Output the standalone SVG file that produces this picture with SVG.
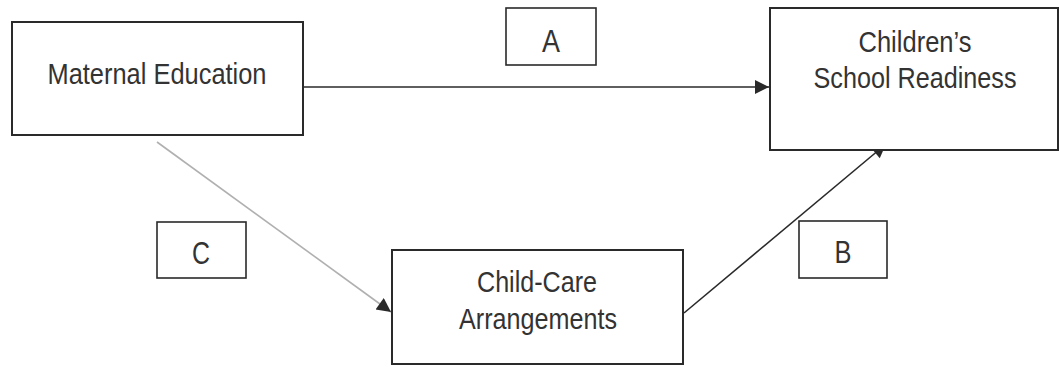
<svg xmlns="http://www.w3.org/2000/svg" width="1060" height="367" viewBox="0 0 1060 367">
<style>
.box{fill:#fff;stroke:#2a2a2a;stroke-width:2}
.lbl{fill:#fff;stroke:#2a2a2a;stroke-width:1.6}
.t{font-family:"Liberation Sans",Arial,sans-serif;font-size:29px;fill:#333;text-anchor:middle}
.l{font-family:"Liberation Sans",Arial,sans-serif;font-size:31px;fill:#333;text-anchor:middle}
.c{stroke:#2a2a2a;stroke-width:1.6;fill:none}
</style>
<defs>
<marker id="ah" viewBox="0 0 10 10" refX="10" refY="5" markerWidth="16" markerHeight="14" markerUnits="userSpaceOnUse" orient="auto"><path d="M0,0 L10,5 L0,10 z" fill="#2a2a2a"/></marker>
</defs>
<rect width="1060" height="367" fill="#fff"/>
<g id="connectors">
<line class="c" x1="303" y1="87" x2="769" y2="87" marker-end="url(#ah)"/>
<line x1="157" y1="142" x2="391" y2="312" stroke="#b0b0b0" stroke-width="1.6" marker-end="url(#ah)"/>
<line class="c" x1="684" y1="313" x2="886" y2="144" marker-end="url(#ah)"/>
</g>
<g id="maternal-education">
<rect class="box" x="12" y="22" width="291" height="113"/>
<text class="t" x="157" y="84" textLength="219" lengthAdjust="spacingAndGlyphs">Maternal Education</text>
</g>
<g id="school-readiness">
<rect class="box" x="770" y="8" width="288" height="142"/>
<text class="t" x="915" y="52" textLength="113" lengthAdjust="spacingAndGlyphs">Children’s</text>
<text class="t" x="915" y="88" textLength="203" lengthAdjust="spacingAndGlyphs">School Readiness</text>
</g>
<g id="child-care">
<rect class="box" x="392" y="250" width="291" height="114"/>
<text class="t" x="537" y="292" textLength="120" lengthAdjust="spacingAndGlyphs">Child-Care</text>
<text class="t" x="538" y="329" textLength="158" lengthAdjust="spacingAndGlyphs">Arrangements</text>
</g>
<g id="label-a">
<rect class="lbl" x="506" y="8" width="90" height="57"/>
<text class="l" x="551" y="52" textLength="18" lengthAdjust="spacingAndGlyphs">A</text>
</g>
<g id="label-c">
<rect class="lbl" x="157" y="222" width="89" height="56"/>
<text class="l" x="201" y="264" textLength="18" lengthAdjust="spacingAndGlyphs">C</text>
</g>
<g id="label-b">
<rect class="lbl" x="799" y="221" width="88" height="57"/>
<text class="l" x="843" y="263" textLength="17" lengthAdjust="spacingAndGlyphs">B</text>
</g>
</svg>
